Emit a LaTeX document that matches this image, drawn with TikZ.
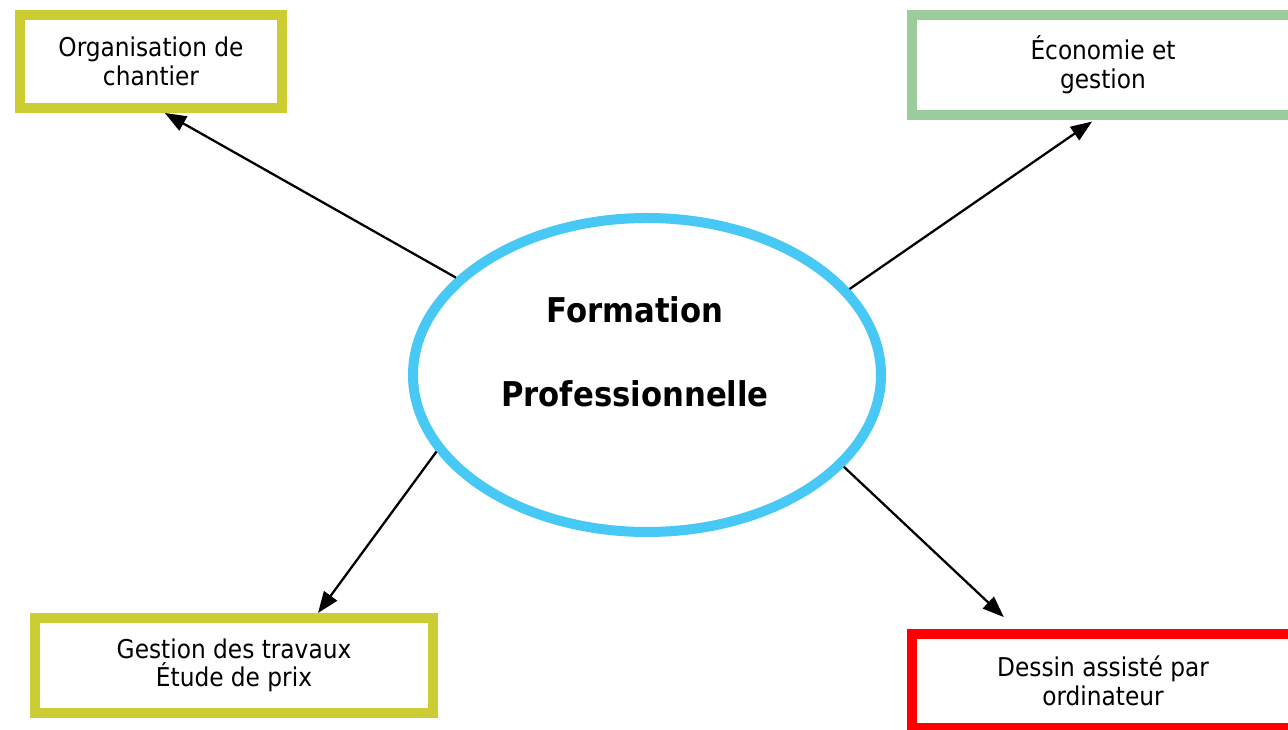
\documentclass[tikz,border=0pt]{standalone}
\usepackage{fontspec}
\setmainfont{DejaVu Sans Condensed}
\usetikzlibrary{arrows.meta,shapes.geometric}
\definecolor{jaunevert}{RGB}{204,204,51}
\definecolor{vertclair}{RGB}{155,204,155}
\definecolor{bleuciel}{RGB}{71,200,245}
\begin{document}
\begin{tikzpicture}[x=0.75pt,y=-0.75pt]
% Styles
\tikzset{
    boite/.style={draw, line width=7.5pt, align=center, inner sep=0pt,
        font=\fontsize{19.4}{21.5}\selectfont},
    fleche/.style={-{Triangle[length=16pt,width=12pt]}, line width=1.7pt}
}
\useasboundingbox (0,0) rectangle (1288,730);

% Central ellipse
\node[ellipse, draw=bleuciel, line width=7.5pt, inner sep=0pt,
    minimum width=351pt, minimum height=235.5pt] (form) at (647,375) {};
\node[align=center, font=\bfseries\fontsize{25.6}{63}\selectfont] (titre) at (635,352) {Formation\\Professionnelle};

% Boxes
\node[boite, draw=jaunevert, minimum width=196.5pt, minimum height=69.75pt] (orga) at (151,61.5) {Organisation de\\chantier};
\node[boite, draw=vertclair, minimum width=286.5pt, minimum height=75pt] (eco) at (1103,65) {Économie et\\gestion};
\node[boite, draw=jaunevert, minimum width=298.5pt, minimum height=71.25pt] (gest) at (234,665.5) {Gestion des travaux\\Étude de prix};
\node[boite, draw=red, minimum width=286.5pt, minimum height=70.5pt] (dao) at (1103,681) {Dessin assisté par\\ordinateur};

% Connections
\draw[fleche] (form.153) -- (orga.-75);
\draw[fleche, shorten >=2pt] (form.23) -- (eco.-99);
\draw[fleche] (form.200) -- (gest.32);
\draw[fleche, shorten >=13pt] (form.-25) -- (dao.149);
\end{tikzpicture}
\end{document}
